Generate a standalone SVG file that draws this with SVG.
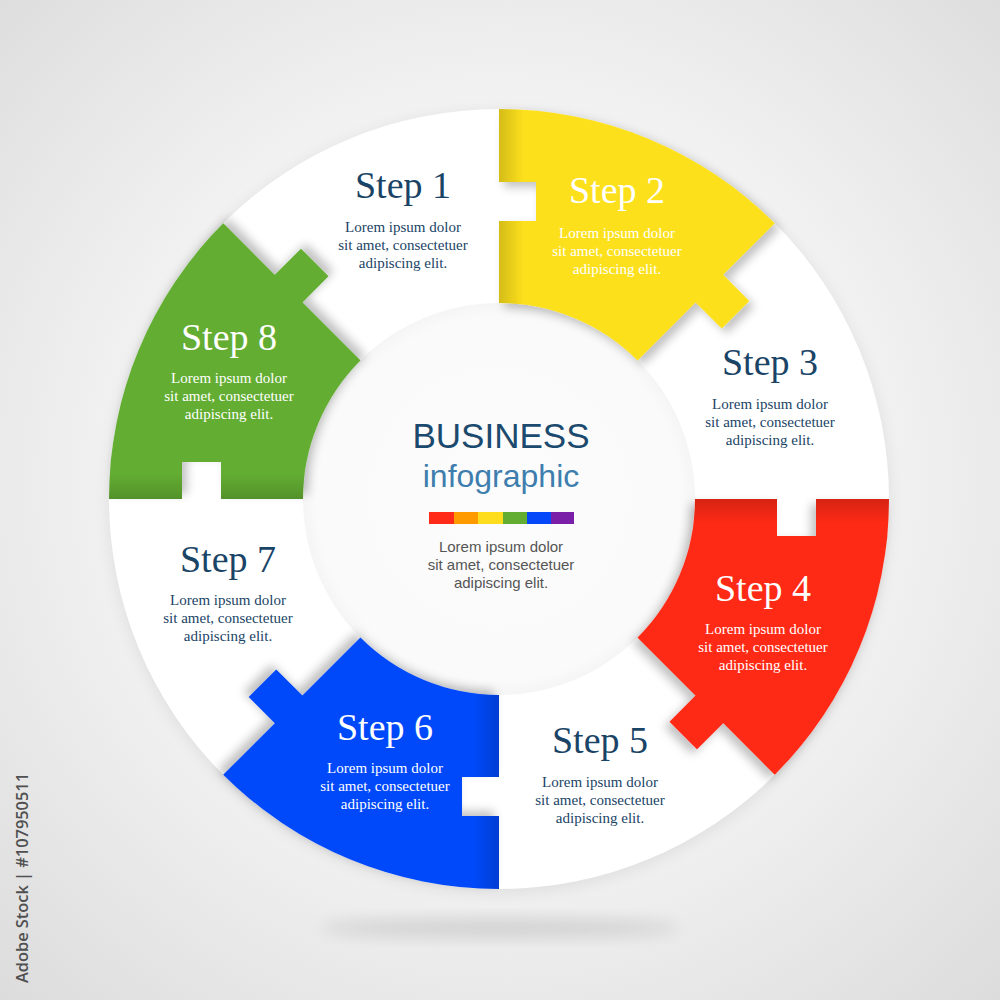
<svg xmlns="http://www.w3.org/2000/svg" xmlns:xlink="http://www.w3.org/1999/xlink" width="1000" height="1000" viewBox="0 0 1000 1000">
  <defs>
    <radialGradient id="bg" cx="500" cy="480" r="720" gradientUnits="userSpaceOnUse">
      <stop offset="0" stop-color="#ffffff"/>
      <stop offset="0.5" stop-color="#f3f3f3"/>
      <stop offset="1" stop-color="#dcdcdc"/>
    </radialGradient>
    <radialGradient id="inner" cx="499" cy="499" r="196" gradientUnits="userSpaceOnUse">
      <stop offset="0" stop-color="#fcfcfc"/>
      <stop offset="0.93" stop-color="#fafafa"/>
      <stop offset="1" stop-color="#f5f5f5"/>
    </radialGradient>
    <linearGradient id="fold" x1="499" y1="0" x2="524" y2="0" gradientUnits="userSpaceOnUse">
      <stop offset="0" stop-color="#000" stop-opacity="0.16"/>
      <stop offset="1" stop-color="#000" stop-opacity="0"/>
    </linearGradient>
    <filter id="drop" x="-20%" y="-20%" width="140%" height="140%">
      <feGaussianBlur in="SourceAlpha" stdDeviation="5"/>
      <feOffset dx="5" dy="5" result="b"/>
      <feFlood flood-color="#000" flood-opacity="0.24"/>
      <feComposite in2="b" operator="in"/>
      <feMerge><feMergeNode/><feMergeNode in="SourceGraphic"/></feMerge>
    </filter>
    <filter id="soft" x="-50%" y="-50%" width="200%" height="200%">
      <feGaussianBlur stdDeviation="8"/>
    </filter>
    <path id="piece" d="M499,109 A390,390 0 0,1 774.77,223.23 L723.15,274.85 L749.31,301.01 L721.74,328.58 L695.58,302.42 L637.59,360.41 A196,196 0 0,0 499,303 L499,221 L536,221 L536,182 L499,182 Z"/>
    <clipPath id="pieceClip"><use xlink:href="#piece"/></clipPath>
    <style>
      .title { font-family: "Liberation Serif", "Times New Roman", serif; font-size: 38px; text-anchor: middle; }
      .body { font-family: "Liberation Serif", "Times New Roman", serif; font-size: 15px; text-anchor: middle; }
      .dark { fill: #1a4466; }
      .light { fill: #ffffff; }
      .sans { font-family: "Liberation Sans", Arial, sans-serif; text-anchor: middle; }
    </style>
  </defs>

  <g id="background">
    <rect x="0" y="0" width="1000" height="1000" fill="url(#bg)"/>
    <ellipse cx="500" cy="928" rx="180" ry="10" fill="#000" opacity="0.11" filter="url(#soft)"/>
  </g>

  <g id="ring">
    <circle cx="499" cy="502" r="391" fill="#000" opacity="0.07" filter="url(#soft)"/>
    <circle cx="499" cy="499" r="390" fill="#ffffff"/>
    <circle cx="499" cy="499" r="196" fill="url(#inner)"/>
  </g>

  <g id="step2">
    <g filter="url(#drop)"><use xlink:href="#piece" fill="#fde01e"/></g>
    <rect x="499" y="100" width="40" height="220" fill="url(#fold)" clip-path="url(#pieceClip)"/>
    <text class="title light" x="617" y="203">Step 2</text>
    <text class="body light" x="617" y="238">Lorem ipsum dolor</text>
    <text class="body light" x="617" y="256">sit amet, consectetuer</text>
    <text class="body light" x="617" y="274">adipiscing elit.</text>
  </g>

  <g id="step4">
    <g transform="rotate(90 499 499)">
      <g filter="url(#drop)"><use xlink:href="#piece" fill="#ff2a17"/></g>
      <rect x="499" y="100" width="40" height="220" fill="url(#fold)" clip-path="url(#pieceClip)"/>
    </g>
    <text class="title light" x="763" y="601">Step 4</text>
    <text class="body light" x="763" y="634">Lorem ipsum dolor</text>
    <text class="body light" x="763" y="652">sit amet, consectetuer</text>
    <text class="body light" x="763" y="670">adipiscing elit.</text>
  </g>

  <g id="step6">
    <g transform="rotate(180 499 499)">
      <g filter="url(#drop)"><use xlink:href="#piece" fill="#0548fa"/></g>
      <rect x="499" y="100" width="40" height="220" fill="url(#fold)" clip-path="url(#pieceClip)"/>
    </g>
    <text class="title light" x="385" y="740">Step 6</text>
    <text class="body light" x="385" y="773">Lorem ipsum dolor</text>
    <text class="body light" x="385" y="791">sit amet, consectetuer</text>
    <text class="body light" x="385" y="809">adipiscing elit.</text>
  </g>

  <g id="step8">
    <g transform="rotate(270 499 499)">
      <g filter="url(#drop)"><use xlink:href="#piece" fill="#63ad33"/></g>
      <rect x="499" y="100" width="40" height="220" fill="url(#fold)" clip-path="url(#pieceClip)"/>
    </g>
    <text class="title light" x="229" y="350">Step 8</text>
    <text class="body light" x="229" y="383">Lorem ipsum dolor</text>
    <text class="body light" x="229" y="401">sit amet, consectetuer</text>
    <text class="body light" x="229" y="419">adipiscing elit.</text>
  </g>

  <g id="step1">
    <text class="title dark" x="403" y="198">Step 1</text>
    <text class="body dark" x="403" y="232">Lorem ipsum dolor</text>
    <text class="body dark" x="403" y="250">sit amet, consectetuer</text>
    <text class="body dark" x="403" y="268">adipiscing elit.</text>
  </g>

  <g id="step3">
    <text class="title dark" x="770" y="375">Step 3</text>
    <text class="body dark" x="770" y="409">Lorem ipsum dolor</text>
    <text class="body dark" x="770" y="427">sit amet, consectetuer</text>
    <text class="body dark" x="770" y="445">adipiscing elit.</text>
  </g>

  <g id="step5">
    <text class="title dark" x="600" y="753">Step 5</text>
    <text class="body dark" x="600" y="787">Lorem ipsum dolor</text>
    <text class="body dark" x="600" y="805">sit amet, consectetuer</text>
    <text class="body dark" x="600" y="823">adipiscing elit.</text>
  </g>

  <g id="step7">
    <text class="title dark" x="228" y="572">Step 7</text>
    <text class="body dark" x="228" y="605">Lorem ipsum dolor</text>
    <text class="body dark" x="228" y="623">sit amet, consectetuer</text>
    <text class="body dark" x="228" y="641">adipiscing elit.</text>
  </g>

  <g id="center">
    <text class="sans" x="501" y="448" font-size="35" fill="#1b4a6e">BUSINESS</text>
    <text class="sans" x="501" y="487" font-size="32" fill="#3e7eae">infographic</text>
    <rect x="429" y="512" width="25" height="12" fill="#ff2a17"/>
    <rect x="454" y="512" width="24" height="12" fill="#ff9a00"/>
    <rect x="478" y="512" width="25" height="12" fill="#fedc1e"/>
    <rect x="503" y="512" width="24" height="12" fill="#63ad33"/>
    <rect x="527" y="512" width="24" height="12" fill="#0548fa"/>
    <rect x="551" y="512" width="23" height="12" fill="#7a1fa8"/>
    <text class="sans" x="501" y="552" font-size="15" fill="#555555">Lorem ipsum dolor</text>
    <text class="sans" x="501" y="570" font-size="15" fill="#555555">sit amet, consectetuer</text>
    <text class="sans" x="501" y="588" font-size="15" fill="#555555">adipiscing elit.</text>
  </g>

  <g id="stock-id">
    <text transform="translate(28 983) rotate(-90)" x="0" y="0" font-family="'Open Sans', 'Liberation Sans', sans-serif" font-size="16" font-weight="600" fill="#505050" textLength="210" lengthAdjust="spacingAndGlyphs">Adobe Stock | #107950511</text>
  </g>
</svg>
